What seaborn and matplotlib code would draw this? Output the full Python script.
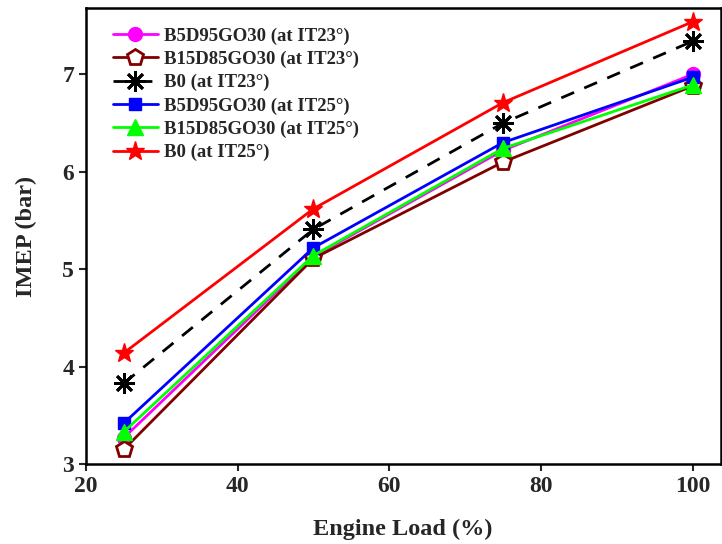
import matplotlib
matplotlib.use("Agg")
import matplotlib.pyplot as plt
import seaborn as sns
import pandas as pd

sns.set_style("ticks")
plt.rcParams['font.family'] = ['Liberation Serif', 'DejaVu Serif']
plt.rcParams['font.weight'] = 'bold'

load = [25, 50, 75, 100]
b5_it23 = [3.27, 5.13, 6.22, 7.00]
b15_it23 = [3.15, 5.11, 6.10, 6.88]
b0_it23 = [3.83, 5.41, 6.50, 7.34]
b5_it25 = [3.42, 5.22, 6.30, 6.97]
b15_it25 = [3.33, 5.14, 6.24, 6.89]
b0_it25 = [4.14, 5.62, 6.71, 7.54]

labels = ["B5D95GO30 (at IT23°)", "B15D85GO30 (at IT23°)", "B0 (at IT23°)",
          "B5D95GO30 (at IT25°)", "B15D85GO30 (at IT25°)", "B0 (at IT25°)"]
series = [b5_it23, b15_it23, b0_it23, b5_it25, b15_it25, b0_it25]

styles = [
    dict(color='#ff00ff', marker='o', markersize=10, linestyle='-', mfc='#ff00ff', mec='#ff00ff'),
    dict(color='#800000', marker='p', markersize=12, linestyle='-', mfc='white', mec='#800000', mew=2),
    dict(color='black', marker=(8, 2, 0), markersize=15, linestyle=(0, (5, 4)), mfc='black', mec='black', mew=2),
    dict(color='#0000ff', marker='s', markersize=9, linestyle='-', mfc='#0000ff', mec='#0000ff'),
    dict(color='#00ff00', marker='^', markersize=11, linestyle='-', mfc='#00ff00', mec='#00ff00'),
    dict(color='#ff0000', marker='*', markersize=14, linestyle='-', mfc='#ff0000', mec='#ff0000'),
]

fig = plt.figure(figsize=(7.22, 5.44), dpi=100)
ax = fig.add_axes([0.119, 0.147, 0.879, 0.838])

for lab, vals, st in zip(labels, series, styles):
    df = pd.DataFrame({"load": load, "imep": vals})
    sns.lineplot(data=df, x="load", y="imep", ax=ax, label=lab, color=st['color'],
                 linestyle=st['linestyle'], linewidth=2, marker=st['marker'],
                 markersize=st['markersize'], markerfacecolor=st['mfc'],
                 markeredgecolor=st['mec'], markeredgewidth=st.get('mew', 1))

ax.set_xlim(20, 103.7)
ax.set_ylim(3, 7.68)
ax.set_xticks([20, 40, 60, 80, 100])
ax.set_yticks([3, 4, 5, 6, 7])
ax.tick_params(labelsize=17, width=1.5, length=5, direction='out')
for lbl in ax.get_xticklabels() + ax.get_yticklabels():
    lbl.set_fontweight('bold')
for sp in ax.spines.values():
    sp.set_linewidth(1.8)
    sp.set_color('black')

ax.set_xlabel("Engine Load (%)", fontsize=17.5, fontweight='bold', labelpad=16)
ax.set_ylabel("IMEP (bar)", fontsize=17.5, fontweight='bold', labelpad=18)

leg = ax.legend(loc='upper left', frameon=False, prop={'weight': 'bold', 'size': 13.5},
                handlelength=2.4, handletextpad=0.3, labelspacing=0.32,
                bbox_to_anchor=(0.016, 0.995))

fig.savefig("out.png", dpi=100)
